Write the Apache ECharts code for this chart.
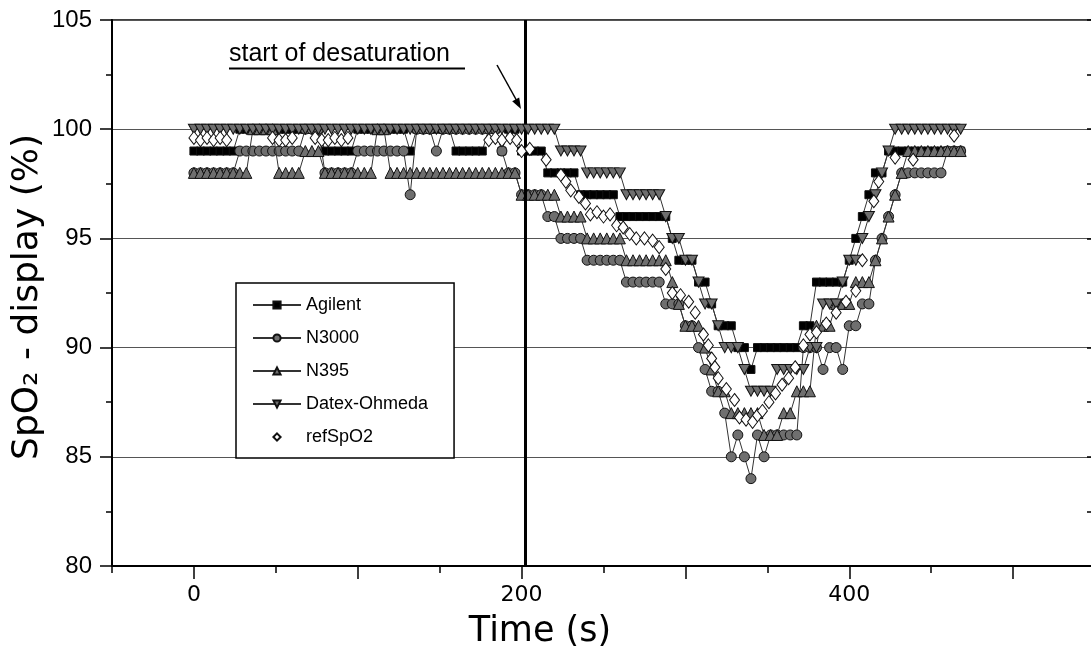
<!DOCTYPE html>
<html><head><meta charset="utf-8">
<script src="https://cdn.jsdelivr.net/npm/echarts@6/dist/echarts.min.js"></script>
<style>html,body{margin:0;padding:0;background:#fff}#c{width:1091px;height:655px}</style>
</head><body><div id="c"></div>
<script>
// sampling times (s)
const times = [
0,4,8,12,16,20,24,28,32,36,
40,44,48,52,56,60,64,68,72,76,
80,84,88,92,96,100,104,108,112,116,
120,124,128,132,136,140,144,148,152,156,
160,164,168,172,176,180,184,188,192,196,
200,204,208,212,216,220,224,228,232,236,
240,244,248,252,256,260,264,268,272,276,
280,284,288,292,296,300,304,308,312,316,
320,324,328,332,336,340,344,348,352,356,
360,364,368,372,376,380,384,388,392,396,
400,404,408,412,416,420,424,428,432,436,
440,444,448,452,456,460,464,468];

const agilent = [
99,99,99,99,99,99,99,100,100,100,
100,100,100,100,100,100,100,100,100,100,
99,99,99,99,99,100,100,100,100,100,
100,100,100,99,100,100,100,100,100,100,
99,99,99,99,99,100,100,99,100,100,
99,99,99,99,98,98,98,98,98,97,
97,97,97,97,97,96,96,96,96,96,
96,96,96,95,94,94,94,93,93,92,
91,91,91,90,90,89,90,90,90,90,
90,90,90,91,91,93,93,93,93,93,
94,95,96,97,98,98,99,99,99,99,
99,99,99,99,99,99,99,99];

const n3000 = [
98,98,98,98,98,98,98,99,99,99,
99,99,99,99,99,99,99,100,100,100,
98,98,98,98,98,99,99,99,99,99,
99,99,99,97,100,100,100,99,100,100,
100,100,100,100,100,100,100,99,98,98,
97,97,97,97,96,96,95,95,95,95,
94,94,94,94,94,94,93,93,93,93,
93,93,92,92,92,91,91,90,89,88,
88,87,85,86,85,84,86,85,86,86,
86,86,86,90,90,90,89,90,90,89,
91,91,92,92,94,95,96,97,98,98,
98,98,98,98,98,99,99,99];

const n395 = [
98,98,98,98,98,98,98,98,98,100,
100,100,100,98,98,98,98,99,99,99,
98,98,98,98,98,98,98,98,100,100,
98,98,98,98,98,98,98,98,98,98,
98,98,98,98,98,98,98,98,98,98,
97,97,97,97,97,97,96,96,96,96,
95,95,95,95,95,95,94,94,94,94,
94,94,94,93,92,91,91,91,90,89,
88,88,87,87,87,87,87,86,86,86,
87,87,88,88,88,91,91,91,92,92,
92,93,93,93,94,95,96,97,98,99,
99,99,99,99,99,99,99,99];

const datex = [
100,100,100,100,100,100,100,100,100,100,
100,100,100,100,100,100,100,100,100,100,
100,100,100,100,100,100,100,100,100,100,
100,100,100,100,100,100,100,100,100,100,
100,100,100,100,100,100,100,100,100,100,
100,100,100,100,100,100,99,99,99,99,
98,98,98,98,98,98,97,97,97,97,
97,97,96,95,95,94,94,93,92,92,
91,90,90,90,89,88,88,88,88,89,
89,89,89,89,90,90,92,92,92,93,
94,94,95,96,97,98,99,100,100,100,
100,100,100,100,100,100,100,100];

// reference SpO2 samples
const refTime = [0,4,8,12,16,20, 48,52,56,60, 74,78,82,86,90,94,
  180,184,188,193,197, 200,205,215,
  224,227,230,235,239,242,246,250,254,258,262,266,270,275,280,284,288,292,297,302,306,
  311,314,316,318,320,325,330,333,337,341,344,347,351,355,359,363,367,372,376,380,386,
  392,398,404,408,415,418,428,439,464];
const refValue = [99.6,99.5,99.6,99.5,99.6,99.5, 99.6,99.5,99.5,99.6, 99.6,99.5,99.5,99.6,99.5,99.6,
  99.5,99.6,99.5,99.6,99.5, 99.0,99.1,98.6,
  97.9,97.6,97.2,96.9,96.6,96.1,96.2,96.0,96.1,95.6,95.5,95.2,95.0,95.0,94.9,94.6,93.6,92.5,92.4,92.1,91.6,
  90.6,90.1,89.5,89.1,88.6,88.1,87.6,86.8,86.7,86.6,86.9,87.1,87.5,87.9,88.3,88.6,89.1,90.1,90.6,90.7,91.1,
  91.6,92.1,92.6,94.0,96.7,97.6,98.7,98.6,99.7];

const seriesNames = ['Agilent','N3000','N395','Datex-Ohmeda','refSpO2'];
const xTickLabels = [0,200,400];
const xMajorTicks = [0,100,200,300,400,500];
const desatStart = 202;

const chart = echarts.init(document.getElementById('c'), null, {renderer:'canvas'});
const edge = '#111';
const hatch = '#6f6f6f';

function lineSeries(name, vals, symbol, size, fill, z) {
  return {
    name: name, type: 'line',
    data: times.map((t, i) => [t, vals[i]]),
    symbol: symbol, symbolSize: size, showSymbol: true, showAllSymbol: true,
    lineStyle: {color: '#333', width: 1},
    itemStyle: {color: fill, borderColor: edge, borderWidth: 1},
    emphasis: {disabled: true}, animation: false, z: z
  };
}
const downTri = 'path://M0,0 L10,0 L5,9 Z';

const option = {
  animation: false,
  grid: {left: 112, top: 20, right: -4, bottom: 89, show: true, borderColor: '#000', borderWidth: 1.5,
         outerBoundsMode: 'none', containLabel: false},
  xAxis: [
    {type: 'value', min: -50, max: 550, interval: 50, position: 'bottom',
     axisLine: {show: true, onZero: false, lineStyle: {color: '#000', width: 2}},
     axisTick: {show: true, length: 7, lineStyle: {color: '#000', width: 1.5}},
     axisLabel: {margin: 18, color: '#000', fontSize: 22, fontFamily: '"DejaVu Sans"',
       formatter: v => (xTickLabels.indexOf(v) >= 0 ? String(v) : '')},
     splitLine: {show: false}},
    {type: 'value', min: -50, max: 550, interval: 50, position: 'bottom',
     axisLine: {show: false, onZero: false},
     axisTick: {show: true, length: 13, customValues: xMajorTicks, lineStyle: {color: '#000', width: 1.5}},
     axisLabel: {show: false}, splitLine: {show: false}}
  ],
  yAxis: [
    {type: 'value', min: 80, max: 105, interval: 5, position: 'left',
     axisLine: {show: true, onZero: false, lineStyle: {color: '#000', width: 2}},
     axisTick: {show: true, length: 12, lineStyle: {color: '#000', width: 1.5}},
     minorTick: {show: true, splitNumber: 2, length: 6, lineStyle: {color: '#000', width: 1.5}},
     axisLabel: {margin: 20, color: '#000', fontSize: 24, fontFamily: '"Liberation Sans Narrow", "Liberation Sans", sans-serif'},
     splitLine: {show: true, lineStyle: {color: '#555', width: 1}}},
    {type: 'value', min: 80, max: 105, interval: 2.5, position: 'right',
     axisLine: {show: false, onZero: false},
     axisTick: {show: true, inside: true, length: 8, lineStyle: {color: '#000', width: 1.5}},
     axisLabel: {show: false}, splitLine: {show: false}}
  ],
  legend: {
    orient: 'vertical', left: 236, top: 283, padding: [13, 26, 12, 16], itemGap: 15,
    itemWidth: 48, itemHeight: 9, backgroundColor: '#fff', borderColor: '#000', borderWidth: 1.5,
    textStyle: {fontSize: 18, fontFamily: '"Liberation Sans", Arial, sans-serif', color: '#000'},
    data: seriesNames, selectedMode: false
  },
  series: [
    lineSeries(seriesNames[0], agilent, 'rect', [8, 8], '#000', 2),
    lineSeries(seriesNames[1], n3000, 'circle', 10, hatch, 3),
    lineSeries(seriesNames[2], n395, 'triangle', 11, hatch, 4),
    lineSeries(seriesNames[3], datex, downTri, [11, 10], hatch, 5),
    {name: seriesNames[4], type: 'line', z: 6,
     data: refTime.map((t, i) => [t, refValue[i]]),
     symbol: 'diamond', symbolSize: [10, 13], showSymbol: true, showAllSymbol: true,
     lineStyle: {width: 0, opacity: 0},
     itemStyle: {color: '#fff', borderColor: '#111', borderWidth: 1},
     emphasis: {disabled: true}, animation: false,
     markLine: {silent: true, symbol: ['none', 'none'], label: {show: false},
       lineStyle: {color: '#000', width: 3, type: 'solid', opacity: 1}, data: [{xAxis: desatStart}], animation: false}}
  ],
  graphic: [
    {type: 'text', x: 28, y: 297, rotation: Math.PI / 2, z: 10,
     style: {text: 'SpO₂ - display (%)', font: '36px "DejaVu Sans"', fill: '#000',
             align: 'center', verticalAlign: 'middle', textAlign: 'center', textVerticalAlign: 'middle'}},
    {type: 'text', x: 540, y: 632, z: 10,
     style: {text: 'Time (s)', font: '35px "DejaVu Sans"', fill: '#000',
             align: 'center', verticalAlign: 'middle', textAlign: 'center', textVerticalAlign: 'middle'}},
    {type: 'text', x: 229, y: 54, z: 10,
     style: {text: 'start of desaturation', font: '25px "Liberation Sans"', fill: '#000',
             align: 'left', verticalAlign: 'middle', textAlign: 'left', textVerticalAlign: 'middle'}},
    {type: 'line', z: 10, shape: {x1: 229, y1: 68.5, x2: 465, y2: 68.5}, style: {stroke: '#000', lineWidth: 2}},
    {type: 'line', z: 10, shape: {x1: 497, y1: 65, x2: 518, y2: 103}, style: {stroke: '#000', lineWidth: 1.5}},
    {type: 'polygon', z: 10, shape: {points: [[521, 109], [512.2, 101.2], [519.2, 97.4]]}, style: {fill: '#000'}}
  ]
};
chart.setOption(option);
</script>
</body></html>
